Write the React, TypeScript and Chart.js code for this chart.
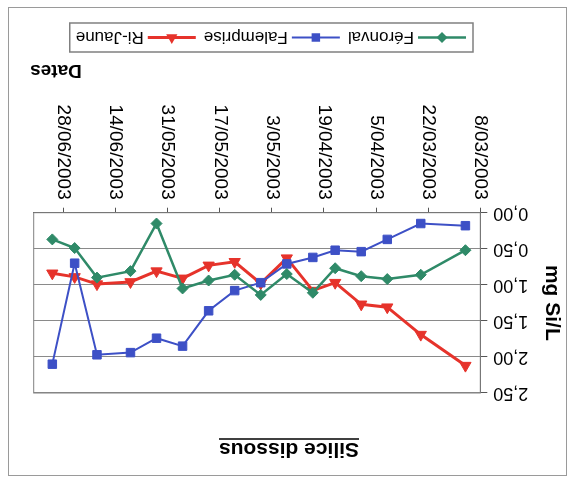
import React, { useEffect, useRef } from "react";
import { Chart, registerables } from "chart.js";

Chart.register(...registerables);

// ---- data ----
const sampleDates = [
  "12/03/2003", "24/03/2003", "2/04/2003", "9/04/2003", "16/04/2003", "22/04/2003",
  "29/04/2003", "6/05/2003", "13/05/2003", "20/05/2003", "27/05/2003", "3/06/2003",
  "10/06/2003", "19/06/2003", "25/06/2003", "1/07/2003",
];
const feronval = [0.52, 0.86, 0.92, 0.88, 0.77, 1.11, 0.85, 1.14, 0.86, 0.94, 1.05, 0.15, 0.81, 0.9, 0.49, 0.37];
const falemprise = [0.18, 0.15, 0.37, 0.54, 0.52, 0.62, 0.71, 0.97, 1.08, 1.36, 1.85, 1.74, 1.94, 1.97, 0.7, 2.1];
const riJaune = [2.12, 1.69, 1.31, 1.27, 0.97, 1.08, 0.63, 0.98, 0.68, 0.73, 0.91, 0.81, 0.96, 0.99, 0.89, 0.84];

const seriesNames = ["Féronval", "Falemprise", "Ri-Jaune"];
const tickDates = [
  "8/03/2003", "22/03/2003", "5/04/2003", "19/04/2003", "3/05/2003",
  "17/05/2003", "31/05/2003", "14/06/2003", "28/06/2003",
];
const axisStart = "8/03/2003";
const axisEnd = "6/07/2003";
const yTicks = [0, 0.5, 1, 1.5, 2, 2.5];

const chartTitle = "Silice dissous";
const xTitle = "Dates";
const yTitle = "mg Si/L";

// ---- helpers ----
function parseDate(s: string): number {
  const [d, m, y] = s.split("/").map(Number);
  return Date.UTC(y, m - 1, d);
}
const base = parseDate(axisStart);
const dayOf = (s: string) => Math.round((parseDate(s) - base) / 86400000);
const sampleDays = sampleDates.map(dayOf);
const tickDays = tickDates.map(dayOf);
const maxDay = dayOf(axisEnd);

const COLORS = ["#2f8a68", "#3d50c6", "#e6332b"];
const STYLES = ["rectRot", "rect", "triangle"];
const RADII = [5.5, 6, 6.5];
const WIDTHS = [2.5, 2, 3];
const FONT = "'Liberation Sans', Arial, sans-serif";

const Y_AXIS_W = 60;
const X_AXIS_H = 120;

function drawMarker(ctx: CanvasRenderingContext2D, style: string, x: number, y: number, r: number) {
  ctx.beginPath();
  if (style === "rectRot") {
    ctx.moveTo(x - r, y);
    ctx.lineTo(x, y - r);
    ctx.lineTo(x + r, y);
    ctx.lineTo(x, y + r);
  } else if (style === "rect") {
    const s = Math.SQRT1_2 * r;
    ctx.rect(x - s, y - s, 2 * s, 2 * s);
  } else {
    const h = r;
    ctx.moveTo(x, y - h);
    ctx.lineTo(x + h * Math.sin((2 * Math.PI) / 3), y - h * Math.cos((2 * Math.PI) / 3));
    ctx.lineTo(x + h * Math.sin((4 * Math.PI) / 3), y - h * Math.cos((4 * Math.PI) / 3));
  }
  ctx.closePath();
  ctx.fill();
}

const decor = {
  id: "decor",
  beforeDraw(chart: any) {
    const ctx = chart.ctx as CanvasRenderingContext2D;
    ctx.save();
    ctx.fillStyle = "#ffffff";
    ctx.fillRect(0, 0, chart.width, chart.height);
    ctx.strokeStyle = "#9a9a9a";
    ctx.lineWidth = 1;
    ctx.strokeRect(4.5, 1.5, 558, 468);
    ctx.restore();
  },
  beforeDatasetsDraw(chart: any) {
    const ctx = chart.ctx as CanvasRenderingContext2D;
    const a = chart.chartArea;
    ctx.save();
    ctx.strokeStyle = "#808080";
    ctx.lineWidth = 1;
    ctx.strokeRect(a.left, a.top, a.right - a.left, a.bottom - a.top);
    ctx.restore();
  },
  afterDraw(chart: any) {
    const ctx = chart.ctx as CanvasRenderingContext2D;
    const a = chart.chartArea;
    ctx.save();
    ctx.fillStyle = "#000";

    // title with underline
    ctx.font = `bold 21px ${FONT}`;
    ctx.textAlign = "center";
    ctx.textBaseline = "alphabetic";
    const tx = 282;
    ctx.fillText(chartTitle, tx, 34);
    const tw = ctx.measureText(chartTitle).width;
    ctx.strokeStyle = "#000";
    ctx.lineWidth = 1.5;
    ctx.beginPath();
    ctx.moveTo(tx - tw / 2, 38);
    ctx.lineTo(tx + tw / 2, 38);
    ctx.stroke();

    // y title
    ctx.save();
    ctx.translate(19, (a.top + a.bottom) / 2);
    ctx.rotate(-Math.PI / 2);
    ctx.font = `bold 21px ${FONT}`;
    ctx.textAlign = "center";
    ctx.textBaseline = "middle";
    ctx.fillText(yTitle, 0, 0);
    ctx.restore();

    // x title
    ctx.font = `bold 19px ${FONT}`;
    ctx.textAlign = "center";
    ctx.textBaseline = "middle";
    ctx.fillText(xTitle, 515, 407);

    // legend
    const boxL = 98, boxT = 425, boxH = 29;
    const cy = boxT + boxH / 2;
    let x = boxL + 7;
    ctx.font = `17px ${FONT}`;
    ctx.textAlign = "left";
    ctx.textBaseline = "middle";
    chart.data.datasets.forEach((ds: any, i: number) => {
      const lineLen = 48;
      ctx.strokeStyle = COLORS[i];
      ctx.lineWidth = WIDTHS[i];
      ctx.beginPath();
      ctx.moveTo(x, cy);
      ctx.lineTo(x + lineLen, cy);
      ctx.stroke();
      ctx.fillStyle = COLORS[i];
      drawMarker(ctx, STYLES[i], x + lineLen / 2, cy, RADII[i]);
      ctx.fillStyle = "#000";
      ctx.fillText(ds.label, x + lineLen + 4, cy + 1);
      x += lineLen + 4 + ctx.measureText(ds.label).width + 8;
    });
    ctx.strokeStyle = "#808080";
    ctx.lineWidth = 1.5;
    ctx.strokeRect(boxL, boxT, x - boxL - 2, boxH);

    ctx.restore();
  },
};

export default function App() {
  const ref = useRef<HTMLCanvasElement | null>(null);

  useEffect(() => {
    if (!ref.current) return;
    const seriesValues = [feronval, falemprise, riJaune];
    const chart = new Chart(ref.current, {
      type: "line",
      data: {
        datasets: seriesValues.map((vals, i) => ({
          label: seriesNames[i],
          data: vals.map((v, j) => ({ x: sampleDays[j], y: v })),
          borderColor: COLORS[i],
          backgroundColor: COLORS[i],
          borderWidth: WIDTHS[i],
          pointStyle: STYLES[i] as any,
          pointRadius: RADII[i],
          pointBorderWidth: 1,
          pointBackgroundColor: COLORS[i],
          pointBorderColor: COLORS[i],
          tension: 0,
          fill: false,
        })),
      },
      options: {
        responsive: false,
        animation: false,
        devicePixelRatio: 1,
        layout: {
          padding: {
            left: 90.7 - Y_AXIS_W,
            top: 84,
            right: 571 - 537.3,
            bottom: 477 - 264.3 - X_AXIS_H,
          },
        },
        plugins: {
          legend: { display: false },
          title: { display: false },
          tooltip: { enabled: false },
        },
        scales: {
          x: {
            type: "linear",
            min: 0,
            max: maxDay,
            afterBuildTicks: (s: any) => {
              s.ticks = tickDays.map((v) => ({ value: v }));
            },
            afterFit: (s: any) => {
              s.height = X_AXIS_H;
            },
            border: { color: "#555", width: 1 },
            grid: { drawOnChartArea: false, tickLength: 5, tickColor: "#555" },
            ticks: {
              autoSkip: false,
              maxRotation: 90,
              minRotation: 90,
              padding: 8,
              color: "#000",
              font: { family: FONT, size: 19 },
              callback: (v: any) => {
                const k = tickDays.indexOf(Number(v));
                return k >= 0 ? tickDates[k] : "";
              },
            },
          },
          y: {
            min: 0,
            max: 2.5,
            afterBuildTicks: (s: any) => {
              s.ticks = yTicks.map((v) => ({ value: v }));
            },
            afterFit: (s: any) => {
              s.width = Y_AXIS_W;
            },
            border: { color: "#555", width: 1 },
            grid: { color: "#8a8a8a", tickLength: 7, tickColor: "#555" },
            ticks: {
              padding: 6,
              color: "#000",
              font: { family: FONT, size: 18 },
              callback: (v: any) => Number(v).toFixed(2).replace(".", ","),
            },
          },
        },
      },
      plugins: [decor],
    });
    return () => chart.destroy();
  }, []);

  return (
    <div
      style={{
        position: "absolute",
        left: 0,
        top: 0,
        width: 571,
        height: 477,
        transform: "rotate(180deg)",
        background: "#fff",
      }}
    >
      <canvas ref={ref} width={571} height={477} style={{ display: "block" }} />
    </div>
  );
}
